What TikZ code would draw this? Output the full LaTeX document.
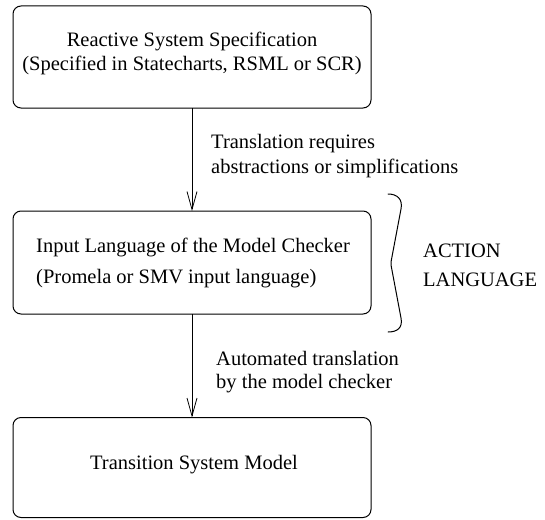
\documentclass[tikz,border=0pt]{standalone}
\usepackage{fontspec}
\setmainfont{Liberation Serif}
\usetikzlibrary{arrows.meta}
\tikzset{
  stage/.style={draw, line width=1pt, rounded corners=8pt, minimum width=358pt,
    inner sep=0pt, outer sep=0pt},
  txt/.style={inner sep=0pt, font=\fontsize{20.5}{24}\selectfont},
  flow/.style={line width=0.8pt, -{Straight Barb[length=18pt, width=10pt, line width=0.8pt]}},
  brace/.style={line width=1pt, line cap=round, line join=round}
}
\begin{document}
\begin{tikzpicture}[x=1pt, y=-1pt]
\useasboundingbox (0,0) rectangle (545,519);

% three stages
\node[stage, minimum height=102pt] (spec) at (192,57) {};
\node[stage, minimum height=103pt] (input) at (192,262.5) {};
\node[stage, minimum height=100pt] (model) at (192,467.5) {};

% box texts
\node[txt, anchor=base] (spec1) at (192,46) {Reactive System Specification};
\node[txt, anchor=base] (spec2) at (192,70) {(Specified in Statecharts, RSML or SCR)};
\node[txt, anchor=base west] (input1) at (36,252) {Input Language of the Model Checker};
\node[txt, anchor=base west] (input2) at (36,283) {(Promela or SMV input language)};
\node[txt, anchor=base] (model1) at (194,469.5) {Transition System Model};

% connectors
\draw[flow] (spec.south) -- (input.north);
\draw[flow] (input.south) -- (model.north);

% connector labels
\node[txt, anchor=base west] (lab1a) at (211,148) {Translation requires};
\node[txt, anchor=base west] (lab1b) at (211,173) {abstractions or simplifications};
\node[txt, anchor=base west] (lab2a) at (216,365) {Automated translation};
\node[txt, anchor=base west] (lab2b) at (216,388) {by the model checker};

% brace beside the input language stage
\draw[brace] (388,194) .. controls (397,194) and (403,199) .. (401,209)
  -- (391,262) .. controls (390.5,263.5) .. (391,265)
  -- (401,318) .. controls (403,328) and (397,332) .. (388,332);
\node[txt, anchor=base west] (act1) at (423,257.5) {ACTION};
\node[txt, anchor=base west] (act2) at (423,286) {LANGUAGE};
\end{tikzpicture}
\end{document}
